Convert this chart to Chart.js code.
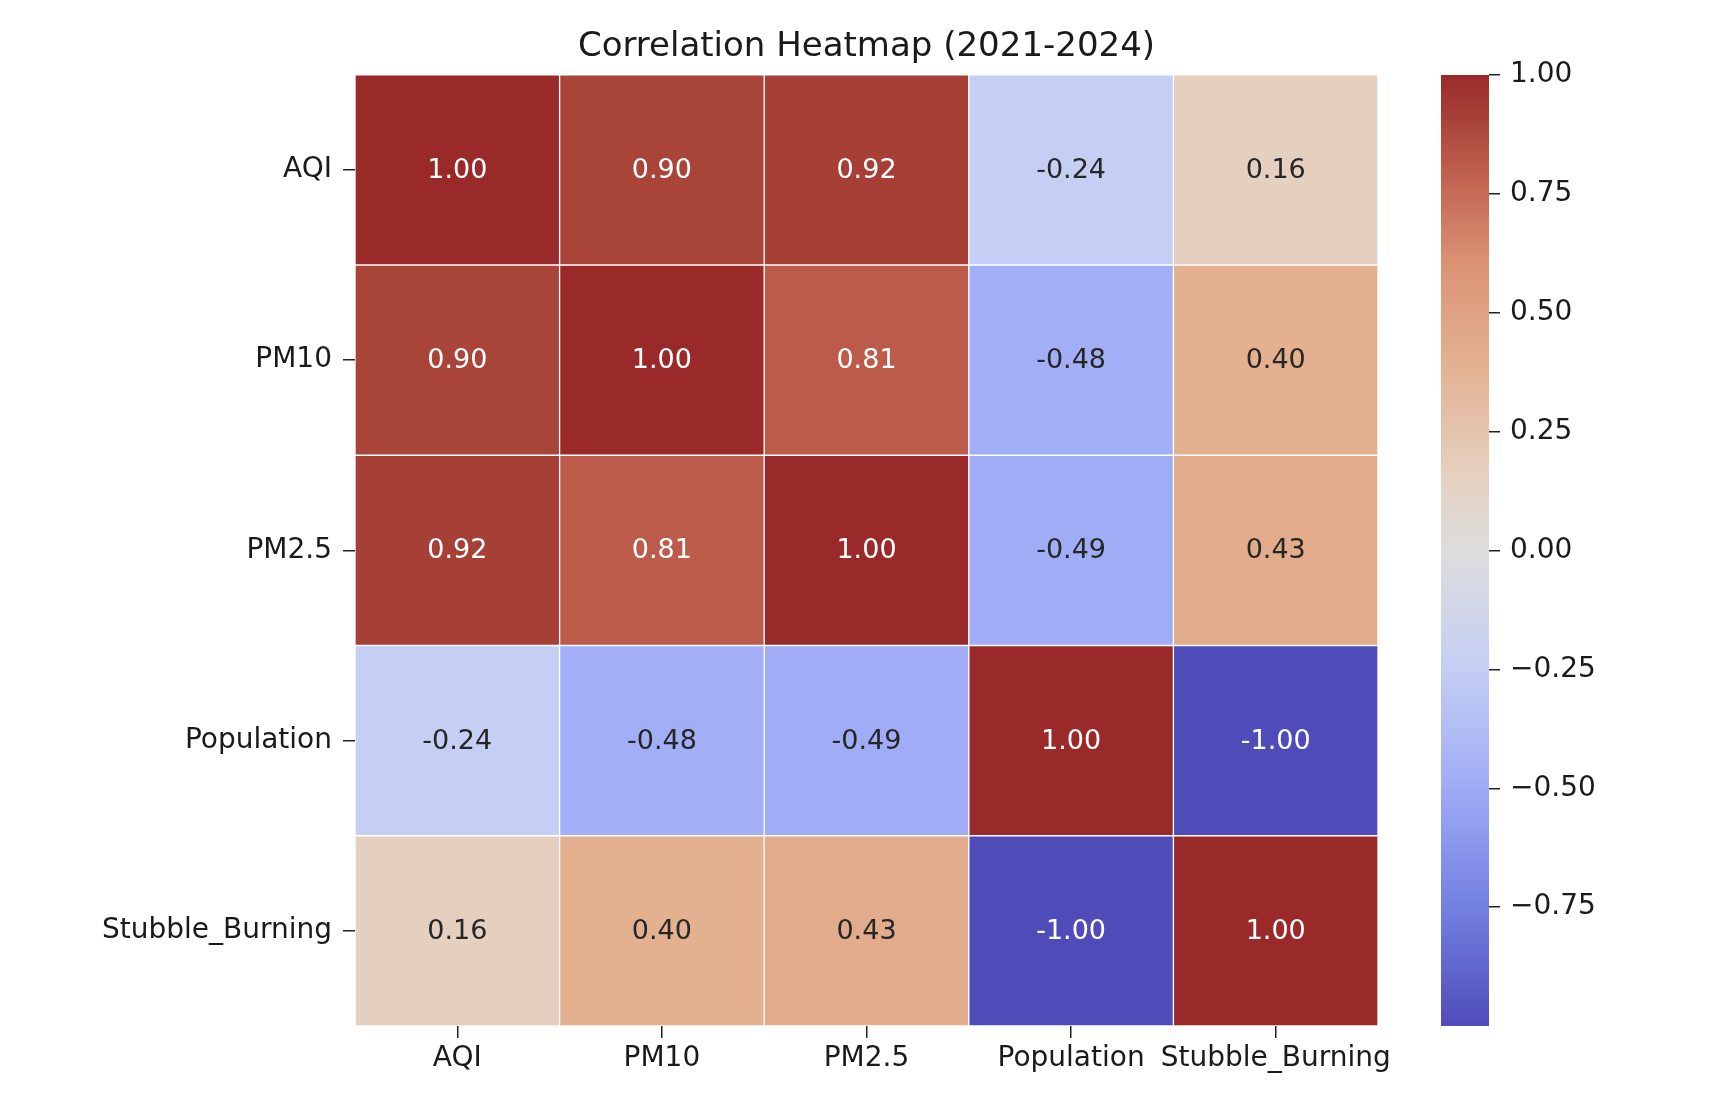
<!DOCTYPE html>
<html lang="en">
<head>
  <meta charset="UTF-8">
  <title>Correlation Heatmap (2021-2024)</title>
  <style>
    body { margin: 0; background: #fff; }
    #wrap { position: relative; width: 1721px; height: 1109px; }
    #heat { position: absolute; left: 0; top: 0; }
    #cbar { position: absolute; left: 1441px; top: 0; }
  </style>
</head>
<body>
  <div id="wrap">
    <canvas id="heat" width="1721" height="1109"></canvas>
    <canvas id="cbar" width="273" height="1109"></canvas>
  </div>

  <script src="https://cdn.jsdelivr.net/npm/chart.js"></script>
  <script>
    const variables = ['AQI', 'PM10', 'PM2.5', 'Population', 'Stubble_Burning'];
    const rowAQI = [1.00, 0.90, 0.92, -0.24, 0.16];
    const rowPM10 = [0.90, 1.00, 0.81, -0.48, 0.40];
    const rowPM25 = [0.92, 0.81, 1.00, -0.49, 0.43];
    const rowPopulation = [-0.24, -0.48, -0.49, 1.00, -1.00];
    const rowStubble = [0.16, 0.40, 0.43, -1.00, 1.00];
    const colorbarTicks = [-0.75, -0.50, -0.25, 0.00, 0.25, 0.50, 0.75, 1.00];

    const rows = [rowAQI, rowPM10, rowPM25, rowPopulation, rowStubble];

    // coolwarm-like colour stops as they look in the picture
    const stops = [
      [-1.00, [79, 76, 186]],
      [-0.75, [116, 128, 224]],
      [-0.48, [162, 174, 246]],
      [-0.24, [197, 207, 243]],
      [0.00, [221, 221, 221]],
      [0.16, [229, 208, 191]],
      [0.40, [227, 176, 144]],
      [0.60, [219, 148, 116]],
      [0.81, [188, 91, 74]],
      [0.90, [169, 68, 57]],
      [1.00, [154, 42, 42]]
    ];

    function colorFor(v) {
      for (let i = 1; i < stops.length; i++) {
        if (v <= stops[i][0]) {
          const [v0, c0] = stops[i - 1];
          const [v1, c1] = stops[i];
          const t = (v - v0) / (v1 - v0);
          return c0.map((x, k) => Math.round(x + (c1[k] - x) * t));
        }
      }
      return stops[stops.length - 1][1];
    }
    const rgb = c => `rgb(${c[0]},${c[1]},${c[2]})`;
    const isDark = c => (0.299 * c[0] + 0.587 * c[1] + 0.114 * c[2]) < 130;

    const FONT = 'DejaVu Sans';

    // one dataset per row, each cell is a floating bar [r, r+1]
    const datasets = rows.map((row, r) => ({
      data: row.map(() => [r, r + 1]),
      backgroundColor: row.map(v => rgb(colorFor(v))),
      borderColor: '#ffffff',
      borderWidth: 1,
      borderSkipped: false,
      grouped: false,
      barPercentage: 1,
      categoryPercentage: 1
    }));

    const annotate = {
      id: 'annotate',
      afterDatasetsDraw(chart) {
        const { ctx, scales } = chart;
        ctx.save();
        ctx.font = `27px "${FONT}"`;
        ctx.textAlign = 'center';
        ctx.textBaseline = 'middle';
        rows.forEach((row, r) => {
          row.forEach((v, c) => {
            const x = scales.x.getPixelForValue(c);
            const y = scales.y.getPixelForValue(r + 0.5);
            ctx.fillStyle = isDark(colorFor(v)) ? '#ffffff' : '#262626';
            ctx.fillText(v.toFixed(2), x, y + 1);
          });
        });
        ctx.restore();
      }
    };

    new Chart(document.getElementById('heat'), {
      type: 'bar',
      data: { labels: variables, datasets },
      options: {
        responsive: false,
        animation: false,
        layout: { padding: { left: 0, right: 343, top: 0, bottom: 0 } },
        plugins: {
          legend: { display: false },
          tooltip: { enabled: false },
          title: {
            display: true,
            text: 'Correlation Heatmap (2021-2024)',
            color: '#1a1a1a',
            fullSize: false,
            font: { family: FONT, size: 34, weight: 'normal', lineHeight: 1.2 },
            padding: { top: 27, bottom: 7 }
          }
        },
        scales: {
          x: {
            type: 'category',
            offset: true,
            border: { display: false },
            grid: { offset: false, drawOnChartArea: false, drawTicks: true, tickLength: 12, color: '#222', lineWidth: 1.5 },
            ticks: { color: '#1a1a1a', padding: 4, maxRotation: 0, autoSkip: false, font: { family: FONT, size: 28 } },
            afterFit: s => { s.height = 83; }
          },
          y: {
            type: 'linear',
            min: 0,
            max: 5,
            reverse: true,
            border: { display: false },
            grid: { drawOnChartArea: false, drawTicks: true, tickLength: 12, color: '#222', lineWidth: 1.5 },
            afterBuildTicks: s => { s.ticks = variables.map((_, i) => ({ value: i + 0.5 })); },
            ticks: {
              color: '#1a1a1a',
              padding: 11,
              font: { family: FONT, size: 28 },
              callback: v => variables[Math.floor(v)]
            },
            afterFit: s => { s.width = 355; }
          }
        }
      },
      plugins: [annotate]
    });

    // colour bar
    const fmt = v => (v < 0 ? '\u2212' : '') + Math.abs(v).toFixed(2);
    new Chart(document.getElementById('cbar'), {
      type: 'bar',
      data: {
        labels: [''],
        datasets: [{
          data: [[-1, 1]],
          borderWidth: 0,
          barPercentage: 1,
          categoryPercentage: 1,
          backgroundColor: (context) => {
            const area = context.chart.chartArea;
            if (!area) return '#ddd';
            const yScale = context.chart.scales.y;
            const g = context.chart.ctx.createLinearGradient(0, yScale.getPixelForValue(-1), 0, yScale.getPixelForValue(1));
            stops.forEach(([v, c]) => g.addColorStop((v + 1) / 2, rgb(c)));
            return g;
          }
        }]
      },
      options: {
        responsive: false,
        animation: false,
        layout: { padding: { left: 0, right: 0, top: 75, bottom: 83 } },
        plugins: { legend: { display: false }, tooltip: { enabled: false } },
        scales: {
          x: { display: false },
          y: {
            position: 'right',
            min: -1,
            max: 1,
            border: { display: false },
            grid: { drawOnChartArea: false, drawTicks: true, tickLength: 11, color: '#222', lineWidth: 1.5 },
            afterBuildTicks: s => { s.ticks = colorbarTicks.map(v => ({ value: v })); },
            ticks: { color: '#1a1a1a', padding: 10, font: { family: FONT, size: 28 }, callback: v => fmt(v) },
            afterFit: s => { s.width = 225; }
          }
        }
      }
    });
  </script>
</body>
</html>
